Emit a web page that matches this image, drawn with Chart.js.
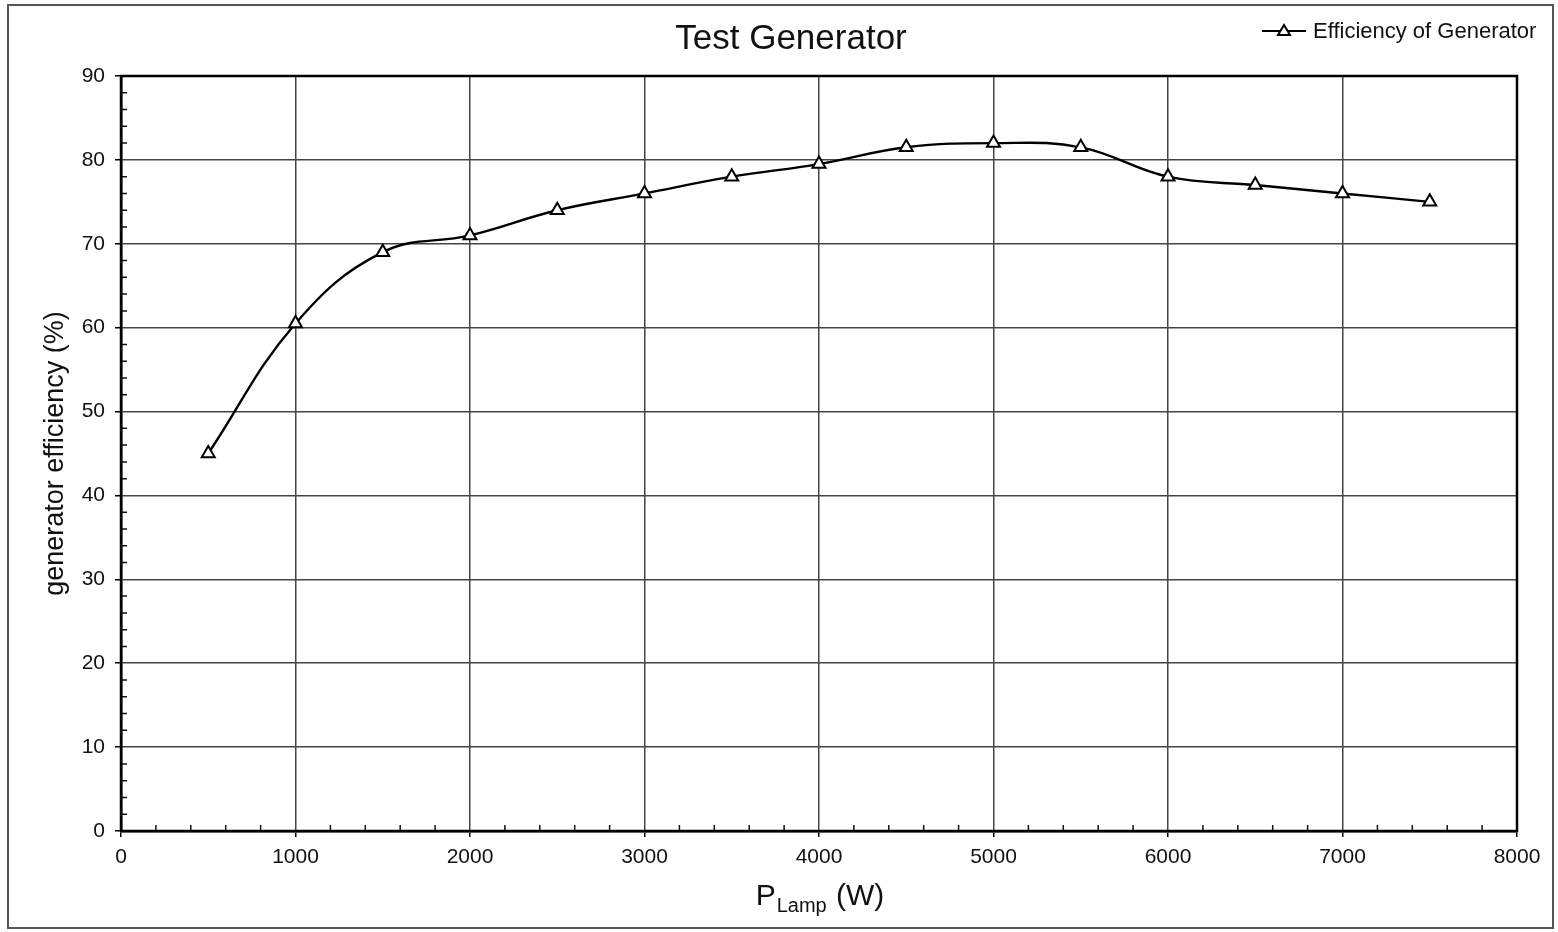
<!DOCTYPE html>
<html>
<head>
<meta charset="utf-8">
<script src="https://cdn.jsdelivr.net/npm/chart.js@4"></script>
<style>
    body { margin: 0; background: #fff; }
    canvas { display: block; }
</style>
</head>
<body>
<canvas id="genChart" width="1558" height="932"></canvas>
<script>
// Data
const pLamp = [500, 1000, 1500, 2000, 2500, 3000, 3500, 4000, 4500, 5000, 5500, 6000, 6500, 7000, 7500];
const efficiency = [45, 60.5, 69, 71, 74, 76, 78, 79.5, 81.5, 82, 81.5, 78, 77, 76, 75];
const xTicks = [0, 1000, 2000, 3000, 4000, 5000, 6000, 7000, 8000];
const yTicks = [0, 10, 20, 30, 40, 50, 60, 70, 80, 90];
const seriesName = 'Efficiency of Generator';
const chartTitle = 'Test Generator';

const FONT = '"Liberation Sans", Arial, sans-serif';

// frame, minor ticks, titles, legend
const decorPlugin = {
    id: 'decor',
    beforeDraw(chart) {
        const ctx = chart.ctx;
        ctx.save();
        ctx.fillStyle = '#fff';
        ctx.fillRect(0, 0, chart.width, chart.height);
        ctx.restore();
    },
    afterDatasetsDraw(chart) {
        const ctx = chart.ctx;
        const a = chart.chartArea;
        const xs = chart.scales.x, ys = chart.scales.y;
        ctx.save();

        // minor ticks pointing inward
        ctx.strokeStyle = '#111';
        ctx.lineWidth = 1.5;
        ctx.beginPath();
        for (let v = 200; v < 8000; v += 200) {
            if (v % 1000 === 0) continue;
            const px = xs.getPixelForValue(v);
            ctx.moveTo(px, a.bottom);
            ctx.lineTo(px, a.bottom - 6);
        }
        for (let v = 2; v < 90; v += 2) {
            if (v % 10 === 0) continue;
            const py = ys.getPixelForValue(v);
            ctx.moveTo(a.left, py);
            ctx.lineTo(a.left + 6, py);
        }
        ctx.stroke();

        // plot frame
        ctx.strokeStyle = '#000';
        ctx.lineWidth = 2.5;
        ctx.strokeRect(a.left, a.top, a.right - a.left, a.bottom - a.top);

        // outer border
        ctx.strokeStyle = '#555';
        ctx.lineWidth = 2;
        ctx.strokeRect(8, 5, 1545, 923);

        // chart title
        ctx.fillStyle = '#111';
        ctx.font = '35px ' + FONT;
        ctx.textAlign = 'center';
        ctx.textBaseline = 'alphabetic';
        ctx.fillText(chartTitle, 791, 49);

        // legend
        const ly = 31;
        ctx.strokeStyle = '#000';
        ctx.lineWidth = 2;
        ctx.beginPath();
        ctx.moveTo(1262, ly);
        ctx.lineTo(1306, ly);
        ctx.stroke();
        ctx.fillStyle = '#fff';
        ctx.beginPath();
        ctx.moveTo(1284, ly - 6);
        ctx.lineTo(1290, ly + 4);
        ctx.lineTo(1278, ly + 4);
        ctx.closePath();
        ctx.fill();
        ctx.stroke();
        ctx.fillStyle = '#111';
        ctx.font = '22px ' + FONT;
        ctx.textAlign = 'left';
        ctx.textBaseline = 'middle';
        ctx.fillText(seriesName, 1313, ly + 1);

        // x axis title with subscript
        const cx = (a.left + a.right) / 2;
        const base = 905;
        ctx.textBaseline = 'alphabetic';
        ctx.font = '30px ' + FONT;
        const wP = ctx.measureText('P').width;
        const wW = ctx.measureText(' (W)').width;
        ctx.font = '20px ' + FONT;
        const wSub = ctx.measureText('Lamp').width;
        let x0 = cx - (wP + wSub + wW) / 2;
        ctx.font = '30px ' + FONT;
        ctx.fillText('P', x0, base);
        ctx.font = '20px ' + FONT;
        ctx.fillText('Lamp', x0 + wP + 1, base + 7);
        ctx.font = '30px ' + FONT;
        ctx.fillText(' (W)', x0 + wP + wSub + 2, base);

        ctx.restore();
    }
};

const ctx = document.getElementById('genChart').getContext('2d');
const myChart = new Chart(ctx, {
    type: 'line',
    data: {
        datasets: [{
            label: seriesName,
            data: pLamp.map((p, i) => ({ x: p, y: efficiency[i] })),
            borderColor: '#000',
            borderWidth: 2.4,
            tension: 0.4,
            pointStyle: 'triangle',
            pointRadius: 7.5,
            pointBorderWidth: 2,
            pointBorderColor: '#000',
            pointBackgroundColor: '#fff',
            fill: false
        }]
    },
    options: {
        responsive: false,
        animation: false,
        layout: { padding: { top: 76, right: 41, left: 0, bottom: 0 } },
        plugins: {
            legend: { display: false },
            title: { display: false },
            tooltip: { enabled: false }
        },
        scales: {
            x: {
                type: 'linear',
                min: 0,
                max: 8000,
                afterBuildTicks: s => { s.ticks = xTicks.map(v => ({ value: v })); },
                afterFit: s => { s.height = 101; },
                grid: { color: '#444', lineWidth: 1.5, tickLength: 6, tickColor: '#000', tickWidth: 1.5 },
                border: { display: true, color: '#000', width: 2.5 },
                ticks: {
                    color: '#111',
                    font: { family: FONT, size: 21 },
                    padding: 8,
                    maxRotation: 0,
                    callback: v => String(v)
                }
            },
            y: {
                min: 0,
                max: 90,
                afterBuildTicks: s => { s.ticks = yTicks.map(v => ({ value: v })); },
                afterFit: s => { s.width = 121; },
                grid: { color: '#444', lineWidth: 1.5, tickLength: 6, tickColor: '#000', tickWidth: 1.5 },
                border: { display: true, color: '#000', width: 2.5 },
                ticks: { color: '#111', font: { family: FONT, size: 21 }, padding: 10 },
                title: {
                    display: true,
                    text: 'generator efficiency (%)',
                    color: '#111',
                    font: { family: FONT, size: 27 },
                    padding: { top: 39, bottom: 0 }
                }
            }
        }
    },
    plugins: [decorPlugin]
});
</script>
</body>
</html>
